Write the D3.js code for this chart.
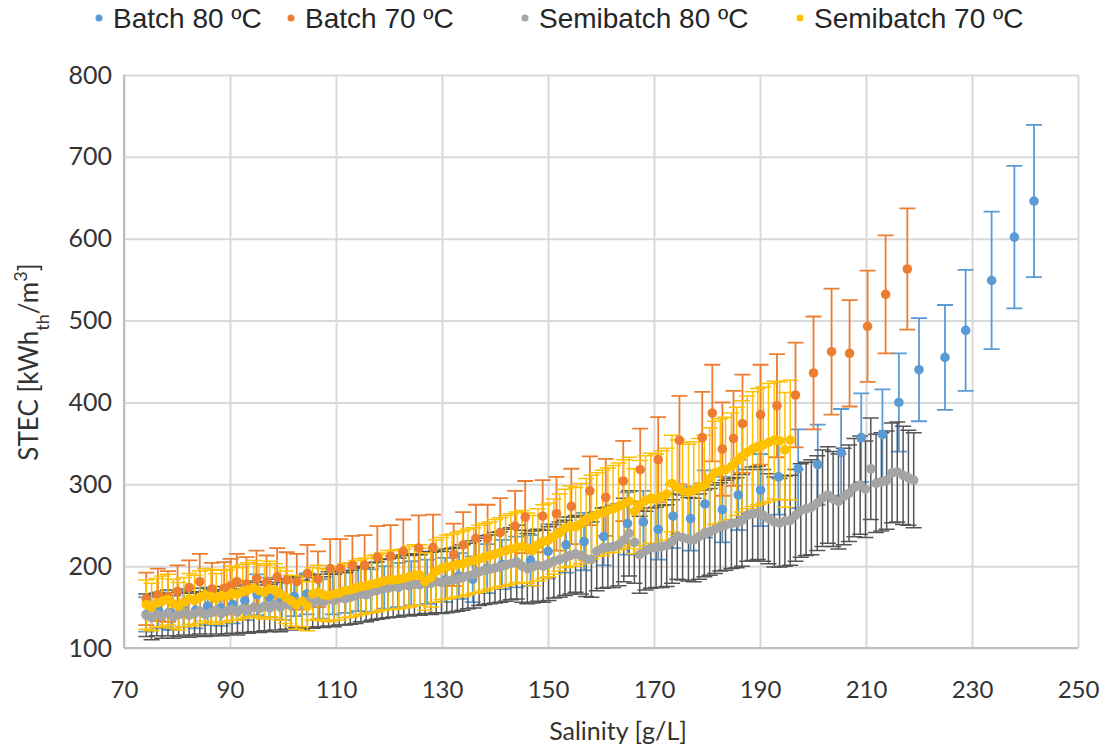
<!DOCTYPE html>
<html><head><meta charset="utf-8">
<script src="https://cdn.jsdelivr.net/npm/d3@7"></script>
<style>body{margin:0;background:#fff} svg{display:block}</style>
</head><body>
<svg id="c" width="1103" height="748"></svg>
<script>
// ---------- DATA ----------
const xTicks = [70, 90, 110, 130, 150, 170, 190, 210, 230, 250];
const yTicks = [100, 200, 300, 400, 500, 600, 700, 800];
const seriesNames = ["Batch 80 \u00baC", "Batch 70 \u00baC", "Semibatch 80 \u00baC", "Semibatch 70 \u00baC"];

// Batch 80 ºC
const batch80X = [74.2, 76.5, 78.9, 81.2, 83.5, 85.8, 88.2, 90.5, 92.8, 95.1, 97.4, 99.8, 102.1, 104.5, 106.9, 109.4, 111.8, 114.2, 116.6, 119.1, 121.7, 124.2, 127.2, 130.6, 133.2, 135.8, 138.5, 141.3, 144.0, 146.7, 150.0, 153.4, 156.8, 160.5, 165.0, 168.0, 170.8, 173.6, 176.9, 179.6, 182.9, 185.9, 190.1, 193.5, 197.2, 200.9, 205.3, 209.1, 213.1, 216.2, 220.0, 224.9, 228.8, 233.7, 238.0, 241.7];
const batch80Y = [141, 146, 143, 148, 146, 151, 149, 153, 158, 165, 162, 158, 163, 166, 160, 166, 168, 171, 170, 174, 177, 179, 181, 183, 188, 184, 197, 202, 205, 207, 218, 226, 230, 236, 252, 254, 245, 261, 258, 276, 269, 287, 293, 309, 319, 324, 339, 357, 361, 400, 440, 455, 488, 549, 602, 646];
const batch80Err = [21, 22, 21, 22, 22, 23, 22, 23, 24, 25, 24, 24, 24, 25, 24, 25, 25, 26, 26, 26, 27, 27, 27, 27, 28, 28, 30, 30, 31, 31, 33, 34, 35, 35, 38, 38, 37, 39, 39, 41, 40, 43, 44, 46, 48, 49, 53, 54, 55, 60, 63, 64, 74, 84, 87, 93];

// Batch 70 ºC
const batch70X = [74.2, 76.4, 78.3, 80.1, 82.3, 84.3, 86.6, 88.9, 90.1, 91.3, 93.1, 95.0, 96.9, 98.9, 100.7, 102.6, 104.6, 106.6, 108.9, 110.8, 113.1, 115.4, 117.8, 120.3, 122.7, 125.6, 128.3, 132.2, 134.0, 136.4, 138.6, 141.0, 143.8, 145.7, 149.0, 151.6, 154.4, 157.9, 160.9, 164.2, 167.4, 170.8, 174.8, 179.1, 181.0, 182.9, 185.0, 186.7, 190.1, 193.2, 196.7, 200.1, 203.5, 206.9, 210.3, 213.7, 217.8];
const batch70Y = [160, 165, 163, 169, 174, 181, 172, 173, 176, 181, 178, 185, 180, 187, 183, 181, 191, 184, 197, 197, 201, 201, 211, 212, 218, 222, 223, 214, 226, 234, 234, 241, 249, 260, 261, 264, 273, 292, 284, 304, 318, 330, 354, 357, 387, 343, 356, 374, 385, 396, 409, 436, 462, 460, 493, 532, 563];
const batch70Err = [32, 32, 31, 32, 33, 34, 32, 32, 33, 34, 33, 34, 33, 35, 34, 34, 35, 34, 36, 36, 36, 37, 38, 38, 39, 40, 40, 38, 40, 41, 41, 42, 43, 44, 44, 45, 46, 42, 47, 49, 50, 52, 54, 56, 59, 57, 58, 60, 61, 63, 64, 69, 77, 65, 68, 72, 74];

// Semibatch 80 ºC
const semi80X = [74.2, 75.2, 76.2, 77.2, 78.3, 79.3, 80.3, 81.3, 82.3, 83.3,
  84.3, 85.3, 86.4, 87.4, 88.4, 89.4, 90.4, 91.4, 92.4, 93.4,
  94.5, 95.5, 96.5, 97.5, 98.5, 99.5, 100.5, 101.5, 102.5, 103.6,
  104.6, 105.6, 106.6, 107.6, 108.6, 109.6, 110.6, 111.7, 112.7, 113.7,
  114.7, 115.7, 116.7, 117.7, 118.7, 119.8, 120.8, 121.8, 122.8, 123.8,
  124.8, 125.8, 126.8, 127.9, 128.9, 129.9, 130.9, 131.9, 132.9, 133.9,
  134.9, 136.0, 137.0, 138.0, 139.0, 140.0, 141.0, 142.0, 143.0, 144.1,
  145.1, 146.1, 147.1, 148.1, 149.1, 150.1, 151.1, 152.2, 153.2, 154.2,
  155.2, 156.2, 157.2, 158.2, 159.2, 160.3, 161.3, 162.3, 163.3, 164.3,
  165.3, 166.3, 167.3, 168.4, 169.4, 170.4, 171.4, 172.4, 173.4, 174.4,
  175.4, 176.5, 177.5, 178.5, 179.5, 180.5, 181.5, 182.5, 183.5, 184.6,
  185.6, 186.6, 187.6, 188.6, 189.6, 190.6, 191.6, 192.7, 193.7, 194.7,
  195.7, 196.7, 197.7, 198.7, 199.7, 200.8, 201.8, 202.8, 203.8, 204.8,
  205.8, 206.8, 207.8, 208.9, 209.9, 210.9, 211.9, 212.9, 213.9, 214.9,
  215.9, 217.0, 218.0, 219.0];
const semi80Y = [140, 137, 141, 139, 143, 138, 141, 144, 140, 142,
  145, 141, 143, 146, 142, 145, 147, 144, 148, 146,
  150, 148, 151, 149, 153, 150, 154, 152, 156, 153,
  157, 155, 158, 156, 160, 158, 161, 160, 162, 164,
  166, 165, 169, 170, 172, 173, 175, 174, 177, 176,
  178, 177, 180, 179, 181, 180, 182, 183, 184, 186,
  188, 190, 193, 195, 196, 198, 199, 201, 203, 205,
  200, 197, 199, 201, 200, 203, 206, 208, 210, 213,
  215, 213, 209, 208, 218, 222, 223, 224, 226, 232,
  240, 229, 214, 219, 222, 223, 224, 225, 230, 236,
  235, 233, 232, 236, 240, 242, 245, 248, 250, 252,
  253, 256, 262, 264, 265, 262, 258, 254, 253, 255,
  256, 262, 268, 270, 272, 277, 283, 287, 282, 279,
  285, 289, 296, 299, 294, 319, 301, 303, 305, 314,
  315, 311, 308, 305];
const semi80Err = [26, 27, 26, 27, 28, 26, 27, 28, 27, 27,
  28, 27, 28, 29, 27, 28, 29, 28, 29, 28,
  30, 29, 30, 29, 31, 30, 31, 30, 31, 30,
  32, 31, 32, 31, 33, 32, 33, 32, 33, 34,
  34, 33, 35, 35, 36, 36, 37, 36, 37, 37,
  37, 37, 38, 38, 38, 38, 39, 39, 39, 40,
  40, 41, 41, 42, 42, 43, 43, 44, 44, 45,
  44, 43, 44, 44, 44, 45, 45, 46, 46, 47,
  47, 47, 46, 46, 48, 49, 49, 50, 50, 51,
  52, 50, 47, 48, 49, 49, 50, 50, 51, 52,
  52, 51, 51, 52, 53, 53, 54, 54, 55, 55,
  55, 56, 56, 57, 57, 56, 55, 55, 54, 55,
  55, 56, 57, 57, 58, 58, 59, 59, 58, 58,
  59, 59, 60, 60, 59, 62, 60, 60, 60, 61,
  61, 60, 58, 58];

// Semibatch 70 ºC
const semi70X = [74.2, 75.2, 76.2, 77.2, 78.3, 79.3, 80.3, 81.3, 82.3, 83.3,
  84.3, 85.3, 86.4, 87.4, 88.4, 89.4, 90.4, 91.4, 92.4, 93.4,
  94.5, 95.5, 96.5, 97.5, 98.5, 99.5, 100.5, 101.5, 102.5, 103.6,
  104.6, 105.6, 106.6, 107.6, 108.6, 109.6, 110.6, 111.7, 112.7, 113.7,
  114.7, 115.7, 116.7, 117.7, 118.7, 119.8, 120.8, 121.8, 122.8, 123.8,
  124.8, 125.8, 126.8, 127.9, 128.9, 129.9, 130.9, 131.9, 132.9, 133.9,
  134.9, 136.0, 137.0, 138.0, 139.0, 140.0, 141.0, 142.0, 143.0, 144.1,
  145.1, 146.1, 147.1, 148.1, 149.1, 150.1, 151.1, 152.2, 153.2, 154.2,
  155.2, 156.2, 157.2, 158.2, 159.2, 160.3, 161.3, 162.3, 163.3, 164.3,
  165.3, 166.3, 167.3, 168.4, 169.4, 170.4, 171.4, 172.4, 173.4, 174.4,
  175.4, 176.5, 177.5, 178.5, 179.5, 180.5, 181.5, 182.5, 183.5, 184.6,
  185.6, 186.6, 187.6, 188.6, 189.6, 190.6, 191.6, 192.7, 193.7, 194.7,
  195.7];
const semi70Y = [153, 150, 155, 157, 159, 154, 151, 156, 160, 158,
  162, 165, 163, 160, 164, 163, 167, 166, 169, 171,
  173, 170, 168, 172, 170, 166, 162, 158, 153, 157,
  151, 166, 168, 165, 164, 166, 167, 170, 171, 173,
  175, 176, 178, 179, 181, 183, 183, 184, 185, 187,
  189, 189, 181, 186, 194, 197, 199, 200, 202, 203,
  205, 207, 209, 211, 213, 215, 217, 219, 221, 223,
  224, 222, 219, 226, 230, 232, 236, 241, 246, 249,
  248, 252, 257, 260, 263, 265, 268, 270, 273, 276,
  279, 267, 275, 280, 283, 282, 285, 288, 301, 296,
  292, 290, 293, 296, 299, 307, 314, 316, 318, 322,
  328, 334, 339, 343, 346, 348, 351, 354, 353, 342,
  354];
const semi70Err = [30, 29, 30, 31, 31, 30, 29, 30, 31, 31,
  32, 32, 32, 31, 32, 32, 33, 32, 33, 33,
  34, 33, 33, 34, 33, 32, 32, 31, 30, 31,
  30, 32, 33, 32, 32, 32, 33, 33, 33, 34,
  34, 34, 35, 35, 35, 36, 36, 36, 36, 37,
  37, 37, 35, 36, 38, 38, 39, 39, 39, 40,
  40, 40, 41, 41, 41, 42, 42, 43, 43, 43,
  44, 43, 43, 44, 45, 45, 46, 47, 48, 49,
  48, 49, 50, 51, 51, 52, 52, 53, 53, 54,
  54, 52, 54, 55, 55, 55, 56, 56, 59, 58,
  59, 59, 59, 60, 61, 62, 63, 64, 64, 65,
  66, 68, 69, 70, 71, 71, 72, 72, 72, 70,
  73];

// ---------- CHART ----------
const series = [
  {name: seriesNames[0], xs: batch80X, ys: batch80Y, es: batch80Err, color: "#5B9BD5", bar: "#5B9BD5", bw: 1.8},
  {name: seriesNames[1], xs: batch70X, ys: batch70Y, es: batch70Err, color: "#ED7D31", bar: "#ED7D31", bw: 1.8},
  {name: seriesNames[2], xs: semi80X, ys: semi80Y, es: semi80Err, color: "#A5A5A5", bar: "#555555", bw: 1.5},
  {name: seriesNames[3], xs: semi70X, ys: semi70Y, es: semi70Err, color: "#FFC000", bar: "#FFC000", bw: 1.5}
];

const box = {l: 124, r: 1078, t: 75, b: 648};
const x = d3.scaleLinear().domain([70, 250]).range([box.l, box.r]);
const y = d3.scaleLinear().domain([100, 800]).range([box.b, box.t]);
const svg = d3.select("#c");
const axisFont = "Lato, 'Open Sans', sans-serif";

// grid + x axis
const gx = svg.append("g").attr("transform", `translate(0,${box.b})`)
  .call(d3.axisBottom(x).tickValues(xTicks).tickSize(-(box.b - box.t)).tickPadding(33).tickFormat(d3.format("d")));
gx.select(".domain").remove();
gx.selectAll(".tick line").attr("stroke", "#D9D9D9").attr("stroke-width", 2);
gx.selectAll(".tick text").attr("font-family", axisFont).attr("font-size", 24).attr("fill", "#333333");

const gy = svg.append("g").attr("transform", `translate(${box.l},0)`)
  .call(d3.axisLeft(y).tickValues(yTicks).tickSize(-(box.r - box.l)).tickPadding(12).tickFormat(d3.format("d")));
gy.select(".domain").remove();
gy.selectAll(".tick line").attr("stroke", "#D9D9D9").attr("stroke-width", 2);
gy.selectAll(".tick text").attr("font-family", axisFont).attr("font-size", 25).attr("fill", "#333333");

// axis lines
svg.append("line").attr("x1", box.l).attr("x2", box.r).attr("y1", box.b).attr("y2", box.b).attr("stroke", "#BFBFBF").attr("stroke-width", 2);
svg.append("line").attr("x1", box.l).attr("x2", box.l).attr("y1", box.t).attr("y2", box.b).attr("stroke", "#BFBFBF").attr("stroke-width", 2);

// error bars
const cap = 8;
series.forEach(s => {
  const pts = s.xs.map((v, i) => ({x: v, y: s.ys[i], e: s.es[i]}));
  const g = svg.append("g").attr("stroke", s.bar).attr("stroke-width", s.bw).attr("fill", "none");
  g.selectAll("path").data(pts).join("path")
    .attr("d", d => {
      const px = x(d.x), y1 = y(d.y + d.e), y2 = y(d.y - d.e);
      return `M${px},${y1}V${y2}M${px - cap},${y1}H${px + cap}M${px - cap},${y2}H${px + cap}`;
    });
});
// markers
series.forEach(s => {
  const pts = s.xs.map((v, i) => ({x: v, y: s.ys[i]}));
  svg.append("g").selectAll("circle").data(pts).join("circle")
    .attr("cx", d => x(d.x)).attr("cy", d => y(d.y)).attr("r", 4.8).attr("fill", s.color);
});

// axis titles
svg.append("text").attr("x", 618).attr("y", 740).attr("text-anchor", "middle")
  .attr("font-family", axisFont).attr("font-size", 25).attr("fill", "#333333").text("Salinity [g/L]");
const yt = svg.append("text").attr("transform", "translate(38,362) rotate(-90)").attr("text-anchor", "middle")
  .attr("font-family", axisFont).attr("font-size", 26).attr("fill", "#333333");
yt.append("tspan").text("STEC [kWh");
yt.append("tspan").attr("baseline-shift", "sub").attr("font-size", 18).text("th");
yt.append("tspan").text("/m");
yt.append("tspan").attr("baseline-shift", "super").attr("font-size", 18).text("3");
yt.append("tspan").text("]");

// legend
const legX = [99, 291, 525, 800];
const lg = svg.append("g");
series.forEach((s, i) => {
  lg.append("circle").attr("cx", legX[i]).attr("cy", 18).attr("r", 3.5).attr("fill", s.color);
  lg.append("text").attr("x", legX[i] + 14).attr("y", 28).attr("font-family", "'Liberation Sans', Arial, sans-serif")
    .attr("font-size", 28).attr("fill", "#262626").text(s.name);
});
</script>
</body></html>
